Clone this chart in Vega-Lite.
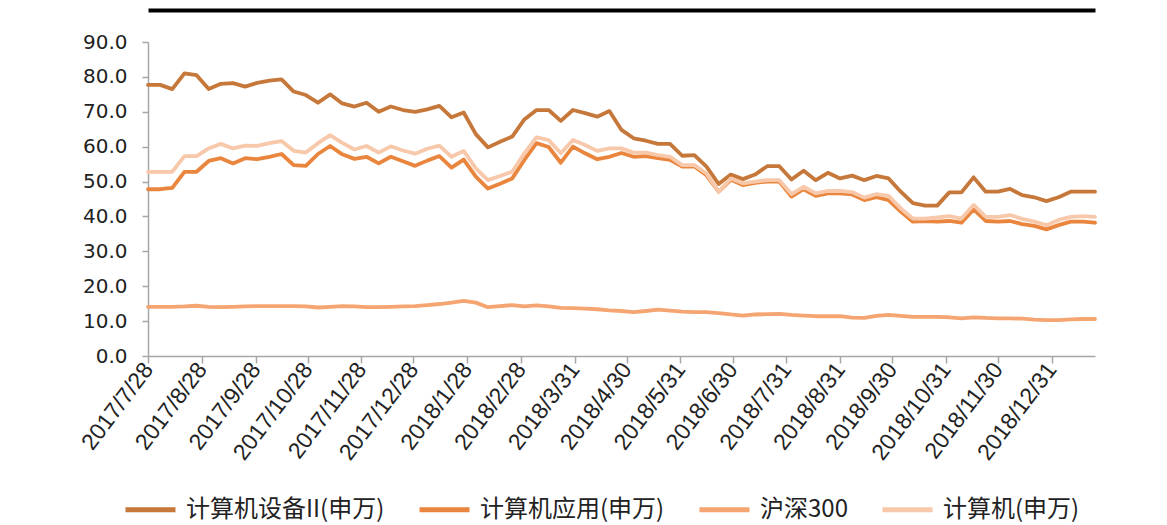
{
  "$schema": "https://vega.github.io/schema/vega-lite/v6.json",
  "width": 947,
  "height": 314,
  "autosize": {"type": "none"},
  "padding": {"left": 148, "top": 42, "right": 72, "bottom": 169},
  "background": "white",
  "config": {"view": {"stroke": null}, "font": "Liberation Sans"},
  "data": {"values": [
    {"date":"2017/07/28","计算机设备II(申万)":77.7,"计算机应用(申万)":47.8,"沪深300":14.1,"计算机(申万)":52.8},
    {"date":"2017/08/04","计算机设备II(申万)":77.7,"计算机应用(申万)":47.8,"沪深300":14.1,"计算机(申万)":52.8},
    {"date":"2017/08/11","计算机设备II(申万)":76.5,"计算机应用(申万)":48.2,"沪深300":14.1,"计算机(申万)":52.8},
    {"date":"2017/08/18","计算机设备II(申万)":81.0,"计算机应用(申万)":52.8,"沪深300":14.2,"计算机(申万)":57.3},
    {"date":"2017/08/25","计算机设备II(申万)":80.5,"计算机应用(申万)":52.8,"沪深300":14.4,"计算机(申万)":57.3},
    {"date":"2017/09/01","计算机设备II(申万)":76.5,"计算机应用(申万)":55.9,"沪深300":14.1,"计算机(申万)":59.5},
    {"date":"2017/09/08","计算机设备II(申万)":78.0,"计算机应用(申万)":56.7,"沪深300":14.0,"计算机(申万)":60.8},
    {"date":"2017/09/15","计算机设备II(申万)":78.2,"计算机应用(申万)":55.2,"沪深300":14.1,"计算机(申万)":59.5},
    {"date":"2017/09/22","计算机设备II(申万)":77.2,"计算机应用(申万)":56.7,"沪深300":14.2,"计算机(申万)":60.3},
    {"date":"2017/09/29","计算机设备II(申万)":78.3,"计算机应用(申万)":56.4,"沪深300":14.3,"计算机(申万)":60.2},
    {"date":"2017/10/06","计算机设备II(申万)":78.9,"计算机应用(申万)":57.1,"沪深300":14.3,"计算机(申万)":61.0},
    {"date":"2017/10/13","计算机设备II(申万)":79.3,"计算机应用(申万)":57.9,"沪深300":14.3,"计算机(申万)":61.6},
    {"date":"2017/10/20","计算机设备II(申万)":75.8,"计算机应用(申万)":54.7,"沪深300":14.3,"计算机(申万)":58.8},
    {"date":"2017/10/27","计算机设备II(申万)":74.8,"计算机应用(申万)":54.5,"沪深300":14.2,"计算机(申万)":58.3},
    {"date":"2017/11/03","计算机设备II(申万)":72.6,"计算机应用(申万)":57.9,"沪深300":13.9,"计算机(申万)":61.0},
    {"date":"2017/11/10","计算机设备II(申万)":75.0,"计算机应用(申万)":60.2,"沪深300":14.1,"计算机(申万)":63.3},
    {"date":"2017/11/17","计算机设备II(申万)":72.4,"计算机应用(申万)":57.8,"沪深300":14.3,"计算机(申万)":61.1},
    {"date":"2017/11/24","计算机设备II(申万)":71.5,"计算机应用(申万)":56.5,"沪深300":14.2,"计算机(申万)":59.2},
    {"date":"2017/12/01","计算机设备II(申万)":72.6,"计算机应用(申万)":57.1,"沪深300":14.0,"计算机(申万)":60.2},
    {"date":"2017/12/08","计算机设备II(申万)":70.0,"计算机应用(申万)":55.2,"沪深300":14.0,"计算机(申万)":58.3},
    {"date":"2017/12/15","计算机设备II(申万)":71.5,"计算机应用(申万)":57.1,"沪深300":14.1,"计算机(申万)":60.1},
    {"date":"2017/12/22","计算机设备II(申万)":70.5,"计算机应用(申万)":55.8,"沪深300":14.2,"计算机(申万)":58.9},
    {"date":"2017/12/29","计算机设备II(申万)":70.0,"计算机应用(申万)":54.5,"沪深300":14.3,"计算机(申万)":58.0},
    {"date":"2018/01/05","计算机设备II(申万)":70.7,"计算机应用(申万)":56.0,"沪深300":14.6,"计算机(申万)":59.4},
    {"date":"2018/01/12","计算机设备II(申万)":71.7,"计算机应用(申万)":57.3,"沪深300":14.9,"计算机(申万)":60.3},
    {"date":"2018/01/19","计算机设备II(申万)":68.4,"计算机应用(申万)":54.0,"沪深300":15.3,"计算机(申万)":57.1},
    {"date":"2018/01/26","计算机设备II(申万)":69.8,"计算机应用(申万)":56.3,"沪深300":15.8,"计算机(申万)":58.8},
    {"date":"2018/02/02","计算机设备II(申万)":63.6,"计算机应用(申万)":51.4,"沪深300":15.3,"计算机(申万)":53.8},
    {"date":"2018/02/09","计算机设备II(申万)":59.8,"计算机应用(申万)":48.0,"沪深300":14.0,"计算机(申万)":50.4},
    {"date":"2018/02/16","计算机设备II(申万)":61.4,"计算机应用(申万)":49.4,"沪深300":14.3,"计算机(申万)":51.6},
    {"date":"2018/02/23","计算机设备II(申万)":62.9,"计算机应用(申万)":50.9,"沪深300":14.6,"计算机(申万)":52.8},
    {"date":"2018/03/02","计算机设备II(申万)":67.8,"计算机应用(申万)":56.2,"沪深300":14.2,"计算机(申万)":58.1},
    {"date":"2018/03/09","计算机设备II(申万)":70.5,"计算机应用(申万)":61.0,"沪深300":14.5,"计算机(申万)":62.7},
    {"date":"2018/03/16","计算机设备II(申万)":70.5,"计算机应用(申万)":59.9,"沪深300":14.2,"计算机(申万)":61.9},
    {"date":"2018/03/23","计算机设备II(申万)":67.4,"计算机应用(申万)":55.4,"沪深300":13.8,"计算机(申万)":58.1},
    {"date":"2018/03/30","计算机设备II(申万)":70.5,"计算机应用(申万)":60.0,"沪深300":13.7,"计算机(申万)":61.9},
    {"date":"2018/04/06","计算机设备II(申万)":69.6,"计算机应用(申万)":58.1,"沪深300":13.6,"计算机(申万)":60.5},
    {"date":"2018/04/13","计算机设备II(申万)":68.6,"计算机应用(申万)":56.4,"沪深300":13.4,"计算机(申万)":58.8},
    {"date":"2018/04/20","计算机设备II(申万)":70.2,"计算机应用(申万)":57.1,"沪深300":13.1,"计算机(申万)":59.5},
    {"date":"2018/04/27","计算机设备II(申万)":64.8,"计算机应用(申万)":58.2,"沪深300":12.9,"计算机(申万)":59.5},
    {"date":"2018/05/04","计算机设备II(申万)":62.4,"计算机应用(申万)":57.1,"沪深300":12.6,"计算机(申万)":58.3},
    {"date":"2018/05/11","计算机设备II(申万)":61.7,"计算机应用(申万)":57.3,"沪深300":12.9,"计算机(申万)":58.3},
    {"date":"2018/05/18","计算机设备II(申万)":60.8,"计算机应用(申万)":56.7,"沪深300":13.3,"计算机(申万)":57.6},
    {"date":"2018/05/25","计算机设备II(申万)":60.8,"计算机应用(申万)":56.2,"沪深300":13.0,"计算机(申万)":57.1},
    {"date":"2018/06/01","计算机设备II(申万)":57.4,"计算机应用(申万)":54.3,"沪深300":12.7,"计算机(申万)":54.7},
    {"date":"2018/06/08","计算机设备II(申万)":57.6,"计算机应用(申万)":54.3,"沪深300":12.6,"计算机(申万)":54.7},
    {"date":"2018/06/15","计算机设备II(申万)":54.3,"计算机应用(申万)":51.8,"沪深300":12.6,"计算机(申万)":52.3},
    {"date":"2018/06/22","计算机设备II(申万)":49.3,"计算机应用(申万)":47.1,"沪深300":12.3,"计算机(申万)":47.1},
    {"date":"2018/06/29","计算机设备II(申万)":52.0,"计算机应用(申万)":50.5,"沪深300":11.9,"计算机(申万)":50.9},
    {"date":"2018/07/06","计算机设备II(申万)":50.7,"计算机应用(申万)":49.0,"沪深300":11.6,"计算机(申万)":49.5},
    {"date":"2018/07/13","计算机设备II(申万)":52.0,"计算机应用(申万)":49.6,"沪深300":11.9,"计算机(申万)":50.0},
    {"date":"2018/07/20","计算机设备II(申万)":54.4,"计算机应用(申万)":50.0,"沪深300":12.0,"计算机(申万)":50.4},
    {"date":"2018/07/27","计算机设备II(申万)":54.4,"计算机应用(申万)":50.0,"沪深300":12.1,"计算机(申万)":50.4},
    {"date":"2018/08/03","计算机设备II(申万)":50.6,"计算机应用(申万)":45.7,"沪深300":11.8,"计算机(申万)":46.4},
    {"date":"2018/08/10","计算机设备II(申万)":53.1,"计算机应用(申万)":47.8,"沪深300":11.6,"计算机(申万)":48.5},
    {"date":"2018/08/17","计算机设备II(申万)":50.4,"计算机应用(申万)":45.9,"沪深300":11.4,"计算机(申万)":46.6},
    {"date":"2018/08/24","计算机设备II(申万)":52.5,"计算机应用(申万)":46.6,"沪深300":11.4,"计算机(申万)":47.3},
    {"date":"2018/08/31","计算机设备II(申万)":50.9,"计算机应用(申万)":46.6,"沪深300":11.4,"计算机(申万)":47.3},
    {"date":"2018/09/07","计算机设备II(申万)":51.7,"计算机应用(申万)":46.3,"沪深300":11.0,"计算机(申万)":47.0},
    {"date":"2018/09/14","计算机设备II(申万)":50.4,"计算机应用(申万)":44.7,"沪深300":10.9,"计算机(申万)":45.4},
    {"date":"2018/09/21","计算机设备II(申万)":51.6,"计算机应用(申万)":45.5,"沪深300":11.5,"计算机(申万)":46.4},
    {"date":"2018/09/28","计算机设备II(申万)":50.9,"计算机应用(申万)":44.7,"沪深300":11.8,"计算机(申万)":45.9},
    {"date":"2018/10/05","计算机设备II(申万)":47.1,"计算机应用(申万)":41.4,"沪深300":11.5,"计算机(申万)":42.3},
    {"date":"2018/10/12","计算机设备II(申万)":43.8,"计算机应用(申万)":38.5,"沪深300":11.2,"计算机(申万)":39.4},
    {"date":"2018/10/19","计算机设备II(申万)":43.1,"计算机应用(申万)":38.7,"沪深300":11.2,"计算机(申万)":39.4},
    {"date":"2018/10/26","计算机设备II(申万)":43.1,"计算机应用(申万)":38.5,"沪深300":11.2,"计算机(申万)":39.7},
    {"date":"2018/11/02","计算机设备II(申万)":46.9,"计算机应用(申万)":38.7,"沪深300":11.1,"计算机(申万)":40.1},
    {"date":"2018/11/09","计算机设备II(申万)":46.9,"计算机应用(申万)":38.2,"沪深300":10.8,"计算机(申万)":39.4},
    {"date":"2018/11/16","计算机设备II(申万)":51.2,"计算机应用(申万)":42.0,"沪深300":11.1,"计算机(申万)":43.3},
    {"date":"2018/11/23","计算机设备II(申万)":47.1,"计算机应用(申万)":38.7,"沪深300":10.9,"计算机(申万)":39.9},
    {"date":"2018/11/30","计算机设备II(申万)":47.1,"计算机应用(申万)":38.5,"沪深300":10.8,"计算机(申万)":39.9},
    {"date":"2018/12/07","计算机设备II(申万)":47.9,"计算机应用(申万)":38.7,"沪深300":10.8,"计算机(申万)":40.4},
    {"date":"2018/12/14","计算机设备II(申万)":46.1,"计算机应用(申万)":37.8,"沪深300":10.7,"计算机(申万)":39.3},
    {"date":"2018/12/21","计算机设备II(申万)":45.5,"计算机应用(申万)":37.3,"沪深300":10.4,"计算机(申万)":38.5},
    {"date":"2018/12/28","计算机设备II(申万)":44.4,"计算机应用(申万)":36.3,"沪深300":10.3,"计算机(申万)":37.5},
    {"date":"2019/01/04","计算机设备II(申万)":45.5,"计算机应用(申万)":37.5,"沪深300":10.3,"计算机(申万)":39.0},
    {"date":"2019/01/11","计算机设备II(申万)":47.1,"计算机应用(申万)":38.5,"沪深300":10.5,"计算机(申万)":39.9},
    {"date":"2019/01/18","计算机设备II(申万)":47.1,"计算机应用(申万)":38.5,"沪深300":10.6,"计算机(申万)":40.1},
    {"date":"2019/01/25","计算机设备II(申万)":47.1,"计算机应用(申万)":38.2,"沪深300":10.6,"计算机(申万)":39.9}
  ]},
  "transform": [
    {"fold": ["计算机设备II(申万)", "计算机应用(申万)", "沪深300", "计算机(申万)"], "as": ["series", "value"]}
  ],
  "layer": [
    {
      "mark": {"type": "line", "strokeWidth": 3.8, "strokeJoin": "round", "strokeCap": "round"},
      "encoding": {
        "x": {
          "field": "date", "type": "temporal",
          "scale": {"domain": [{"year": 2017, "month": 7, "date": 28}, {"year": 2019, "month": 1, "date": 25}], "nice": false},
          "axis": {
            "title": null, "grid": false,
            "values": [
              {"year": 2017, "month": 7, "date": 28}, {"year": 2017, "month": 8, "date": 28}, {"year": 2017, "month": 9, "date": 28},
              {"year": 2017, "month": 10, "date": 28}, {"year": 2017, "month": 11, "date": 28}, {"year": 2017, "month": 12, "date": 28},
              {"year": 2018, "month": 1, "date": 28}, {"year": 2018, "month": 2, "date": 28}, {"year": 2018, "month": 3, "date": 31},
              {"year": 2018, "month": 4, "date": 30}, {"year": 2018, "month": 5, "date": 31}, {"year": 2018, "month": 6, "date": 30},
              {"year": 2018, "month": 7, "date": 31}, {"year": 2018, "month": 8, "date": 31}, {"year": 2018, "month": 9, "date": 30},
              {"year": 2018, "month": 10, "date": 31}, {"year": 2018, "month": 11, "date": 30}, {"year": 2018, "month": 12, "date": 31}
            ],
            "format": "%Y/%-m/%-d",
            "labelAngle": -53,
            "labelFont": "Liberation Sans",
            "labelFontSize": 23,
            "labelColor": "#222222",
            "labelPadding": 2,
            "labelOverlap": false,
            "labelFlush": false,
            "tickSize": 7,
            "tickColor": "#A6A6A6",
            "domainColor": "#A6A6A6",
            "domainWidth": 1.5,
            "tickWidth": 1.5
          }
        },
        "y": {
          "field": "value", "type": "quantitative",
          "scale": {"domain": [0, 90], "nice": false},
          "axis": {
            "title": null, "grid": false,
            "values": [0, 10, 20, 30, 40, 50, 60, 70, 80, 90],
            "format": ".1f",
            "labelFont": "DejaVu Sans",
            "labelFontSize": 20,
            "labelColor": "#222222",
            "labelPadding": 15,
            "labelOverlap": false,
            "labelFlush": false,
            "tickSize": 6,
            "tickColor": "#A6A6A6",
            "domainColor": "#A6A6A6",
            "domainWidth": 1.5,
            "tickWidth": 1.5
          }
        },
        "color": {
          "field": "series", "type": "nominal",
          "scale": {
            "domain": ["计算机设备II(申万)", "计算机应用(申万)", "沪深300", "计算机(申万)"],
            "range": ["#C6773A", "#E9853C", "#F5A571", "#F8C8AA"]
          },
          "legend": {
            "title": null,
            "orient": "none",
            "legendX": -25,
            "legendY": 440,
            "direction": "horizontal",
            "symbolType": "stroke",
            "symbolSize": 2500,
            "symbolStrokeWidth": 5,
            "labelFont": "Noto Sans CJK SC",
            "labelFontSize": 24,
            "labelColor": "#222222",
            "labelLimit": 400,
            "labelOffset": 8,
            "columnPadding": 24
          }
        }
      }
    },
    {
      "mark": {"type": "line", "opacity": 0},
      "encoding": {
        "x": {
          "field": "date", "type": "temporal",
          "axis": {"orient": "top", "title": null, "grid": false, "labels": false, "ticks": false, "domain": true, "domainColor": "#000000", "domainWidth": 4, "offset": 32}
        },
        "y": {"field": "value", "type": "quantitative", "axis": null}
      }
    }
  ],
  "resolve": {"axis": {"x": "independent", "y": "independent"}}
}
